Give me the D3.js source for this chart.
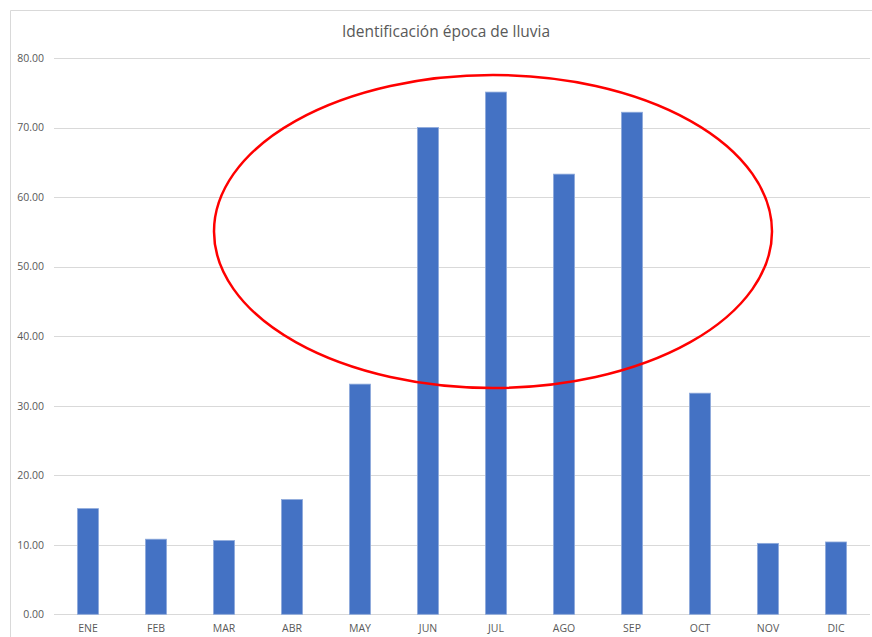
<!DOCTYPE html>
<html>
<head>
<meta charset="utf-8">
<script src="https://cdn.jsdelivr.net/npm/d3@7"></script>
<style>
  html, body { margin: 0; padding: 0; background: #fff; }
  svg { display: block; }
  text { font-family: "Open Sans", "Noto Sans", sans-serif; fill: #595959; }
</style>
</head>
<body>
<svg id="chart" width="872" height="637"></svg>
<script>
// Monthly rainfall (mm)
const months = ["ENE", "FEB", "MAR", "ABR", "MAY", "JUN", "JUL", "AGO", "SEP", "OCT", "NOV", "DIC"];
const rainfall = [15.2, 10.8, 10.6, 16.5, 33.1, 70.0, 75.1, 63.3, 72.2, 31.8, 10.2, 10.4];
const yTicks = [0, 10, 20, 30, 40, 50, 60, 70, 80];
const title = "Identificación época de lluvia";

const svg = d3.select("#chart");
const W = 872, H = 637;
const plot = { left: 54, right: 870, top: 58, bottom: 614.3 };

// Chart frame
svg.append("path")
  .attr("d", `M10.5,${H} V10.5 H${W}`)
  .attr("fill", "none")
  .attr("stroke", "#d9d9d9")
  .attr("stroke-width", 1);

const x = d3.scaleBand()
  .domain(months)
  .range([plot.left, plot.right])
  .paddingInner(0.69)
  .paddingOuter(0.345);

const y = d3.scaleLinear()
  .domain([0, 80])
  .range([plot.bottom, plot.top]);

// Horizontal gridlines
svg.append("g")
  .selectAll("line")
  .data(yTicks)
  .join("line")
  .attr("x1", plot.left)
  .attr("x2", plot.right)
  .attr("y1", d => Math.round(y(d)) + 0.5)
  .attr("y2", d => Math.round(y(d)) + 0.5)
  .attr("stroke", "#d9d9d9")
  .attr("stroke-width", 1);

// Y axis labels
const yAxis = d3.axisLeft(y)
  .tickValues(yTicks)
  .tickFormat(d3.format(".2f"))
  .tickSize(0)
  .tickPadding(0);
const gy = svg.append("g")
  .attr("transform", `translate(${plot.left - 10},0)`)
  .call(yAxis);
gy.select(".domain").remove();
gy.selectAll("text")
  .attr("font-size", 10.5)
  .attr("font-family", null)
  .style("fill", "#595959");

// X axis labels
const xAxis = d3.axisBottom(x).tickSize(0).tickPadding(0);
const gx = svg.append("g")
  .attr("transform", `translate(0,${plot.bottom + 10})`)
  .call(xAxis);
gx.select(".domain").remove();
gx.selectAll("text")
  .attr("font-size", 10.5)
  .attr("font-family", null)
  .style("fill", "#595959");

// Bars
svg.append("g")
  .selectAll("rect")
  .data(months.map((m, i) => ({ m, v: rainfall[i] })))
  .join("rect")
  .attr("x", d => x(d.m))
  .attr("width", x.bandwidth())
  .attr("y", d => y(d.v))
  .attr("height", d => y(0) - y(d.v))
  .attr("fill", "#4472c4")
  .attr("stroke", "#8eaadb")
  .attr("stroke-width", 0.8);

// Title
svg.append("text")
  .attr("x", 446)
  .attr("y", 37)
  .attr("text-anchor", "middle")
  .attr("font-size", 15.5)
  .text(title);

// Highlight of the rainy season
svg.append("ellipse")
  .attr("cx", 493)
  .attr("cy", 231.5)
  .attr("rx", 279)
  .attr("ry", 156.5)
  .attr("fill", "none")
  .attr("stroke", "#ff0000")
  .attr("stroke-width", 2.5);
</script>
</body>
</html>
